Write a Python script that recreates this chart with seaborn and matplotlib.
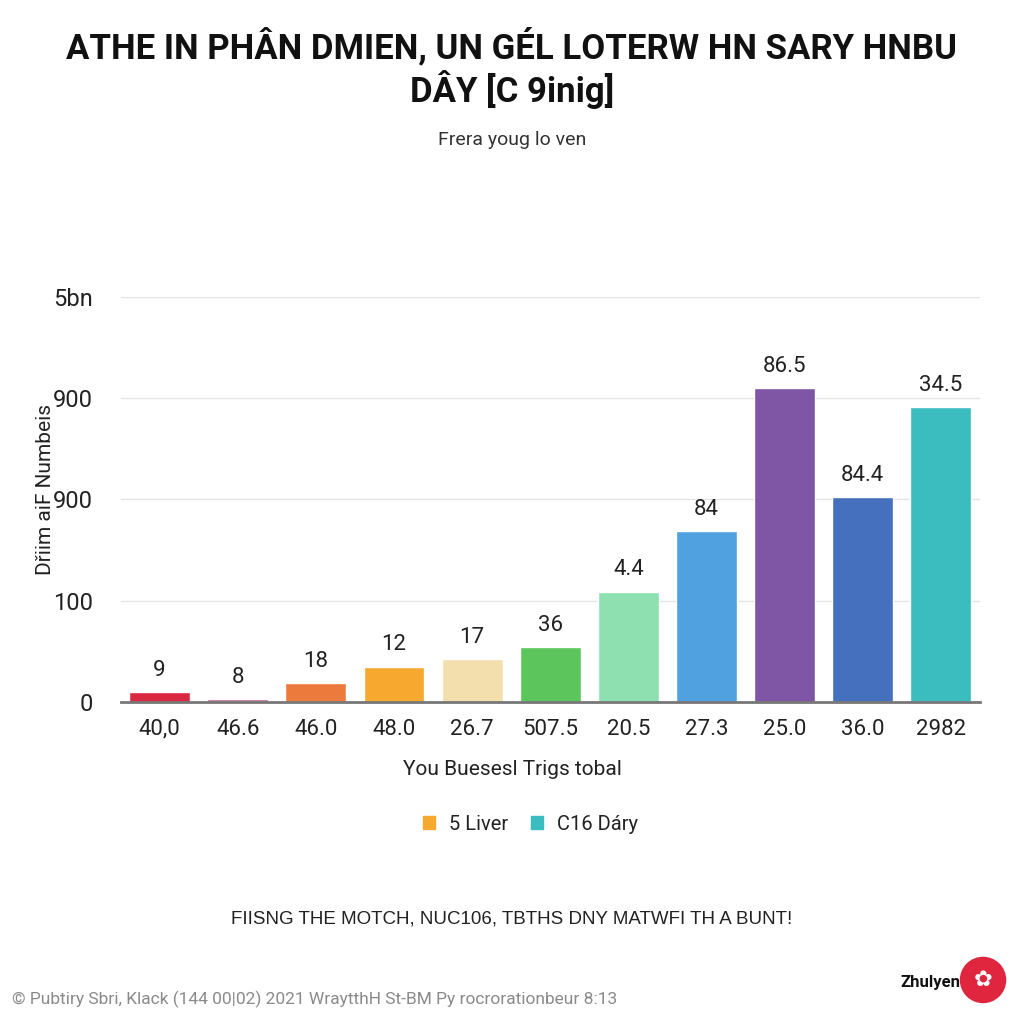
import matplotlib
matplotlib.use("Agg")
import matplotlib.pyplot as plt
import seaborn as sns
import pandas as pd
from matplotlib.patches import Patch, Circle

# ---- data ----
categories = ["40,0", "46.6", "46.0", "48.0", "26.7", "507.5", "20.5", "27.3", "25.0", "36.0", "2982"]
values = [10, 3, 19, 35, 42, 54, 109, 169, 310, 202, 291]
bar_labels = ["9", "8", "18", "12", "17", "36", "4.4", "84", "86.5", "84.4", "34.5"]
bar_colors = ["#d9283f", "#c0679a", "#ec7a3c", "#f6a82f", "#f3dfae", "#5cc55c",
              "#8ee0b0", "#4fa1e0", "#7f55a5", "#4470bd", "#3bbcbf"]
y_ticks = [0, 100, 200, 300, 400]
y_tick_labels = ["0", "100", "900", "900", "5bn"]
legend_labels = ["5 Liver", "C16 Dáry"]
legend_colors = ["#f6a82f", "#3bbcbf"]

title = "ATHE IN PHÂN DMIEN, UN GÉL LOTERW HN SARY HNBU\nDÂY [C 9inig]"
subtitle = "Frera youg lo ven"
y_label = "Dřiim aiF Numbeis"
x_label = "You Buesesl Trigs tobal"
footer = "FIISNG THE MOTCH, NUC106, TBTHS DNY MATWFI TH A BUNT!"
credit = "© Pubtiry Sbri, Klack (144 00|02) 2021 WraytthH St-BM Py rocrorationbeur 8:13"
brand = "Zhulyen"

sns.set_theme(style="white")
plt.rcParams['font.family'] = ['Roboto', 'DejaVu Sans']

df = pd.DataFrame({"cat": categories, "val": values})

fig = plt.figure(figsize=(10.24, 10.24), dpi=100)
fig.patch.set_facecolor("white")
ax = fig.add_axes([0.1177, 0.3145, 0.8393, 0.3955])

sns.barplot(data=df, x="cat", y="val", hue="cat", palette=bar_colors,
            order=categories, hue_order=categories, legend=False,
            width=0.78, saturation=1, ax=ax)

for cont, lab in zip(ax.containers, bar_labels):
    ax.bar_label(cont, labels=[lab], padding=8, fontsize=16, color="#222222")

ax.set_ylim(0, 400)
ax.set_xlim(-0.5, len(categories) - 0.5)
ax.set_yticks(y_ticks)
ax.set_yticklabels(y_tick_labels, fontsize=17, color="#222222")
ax.tick_params(axis="x", labelsize=16, colors="#222222", pad=6)
ax.tick_params(axis="y", pad=20, length=0)
for t in ax.get_xticklabels():
    t.set_color("#222222")
ax.grid(axis="y", color="#e4e4e4", linewidth=1)
ax.set_axisbelow(True)
for s in ["top", "right", "left"]:
    ax.spines[s].set_visible(False)
ax.spines["bottom"].set_color("#777777")
ax.spines["bottom"].set_linewidth(2)
ax.set_xlabel("")
ax.set_ylabel("")

# texts
fig.text(0.5, 0.934, title, ha="center", va="center", fontsize=25,
         fontweight="bold", color="#111111", linespacing=1.15)
fig.text(0.5, 0.863, subtitle, ha="center", va="center", fontsize=14, color="#333333")
fig.text(0.044, 0.522, y_label, ha="center", va="center", rotation=90,
         fontsize=15, color="#222222")
fig.text(0.5, 0.249, x_label, ha="center", va="center", fontsize=15, color="#222222")

leg = fig.legend(handles=[Patch(color=c, label=l) for c, l in zip(legend_colors, legend_labels)],
                 loc="center", bbox_to_anchor=(0.518, 0.195), ncol=2, frameon=False,
                 fontsize=14.5, handlelength=0.6, handleheight=0.6, handletextpad=0.7,
                 columnspacing=1.1)
for t in leg.get_texts():
    t.set_color("#222222")

fig.text(0.5, 0.103, footer, ha="center", va="center", fontsize=13.5,
         color="#222222", family=["Liberation Sans", "DejaVu Sans"])
fig.text(0.012, 0.024, credit, ha="left", va="center", fontsize=12.5, color="#8a8a8a")
fig.text(0.938, 0.041, brand, ha="right", va="center", fontsize=12,
         fontweight="bold", color="#111111")
circ = Circle((0.96, 0.043), 0.022, transform=fig.transFigure, color="#e0263f",
              zorder=5)
fig.add_artist(circ)
fig.text(0.96, 0.043, "✿", ha="center", va="center", fontsize=16, color="white",
         family=["DejaVu Sans"], zorder=6)

fig.savefig("out.png", dpi=100, facecolor="white")
